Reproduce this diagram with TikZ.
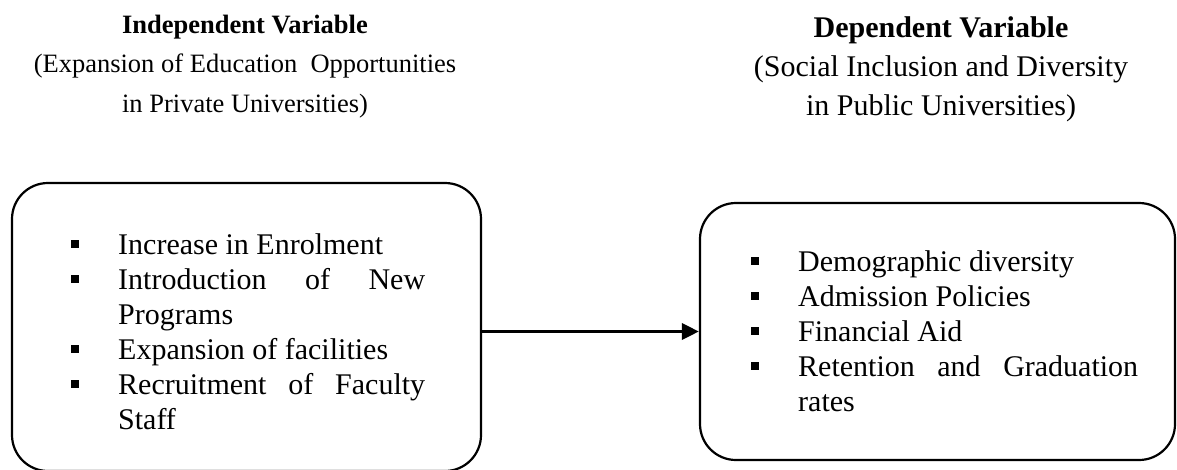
\documentclass[tikz,border=0pt]{standalone}
\usepackage{fontspec}
\setmainfont{Liberation Serif}
\usetikzlibrary{arrows.meta}

% square bullet hung to the left of each entry
\newcommand\sqitem{\par\noindent\llap{\rule[7pt]{8pt}{8pt}\hspace{39pt}}}
% list text: wide word spaces for justified lines, no hyphens
\newcommand\listfont{\fontsize{30}{35}\selectfont
  \spaceskip=7.5pt plus 40pt minus 2pt\relax\hyphenpenalty=10000\relax}

\begin{document}
\begin{tikzpicture}[
  x=1pt,y=-1pt,
  varbox/.style={draw,line width=2.2pt,rounded corners=36pt,inner sep=0pt},
  heading/.style={anchor=north,inner sep=0pt,align=center},
  items/.style={anchor=north west,inner sep=0pt,align=justify,font=\listfont},
  flow/.style={line width=3.5pt,-{Triangle[length=17pt,width=16pt]}}
]
  \useasboundingbox (0,0) rectangle (1177,469);

  % titles above the two boxes
  \node[heading,font=\fontsize{26.5}{39.5}\selectfont] (indep) at (245,5.4)
    {\strut\textbf{Independent Variable}\\(Expansion of Education\ \ Opportunities\\in Private Universities)};
  \node[heading,font=\fontsize{30}{39}\selectfont] (dep) at (941,9.7)
    {\strut\textbf{Dependent Variable}\\(Social Inclusion and Diversity\\in Public Universities)};

  % the two boxes
  \node[varbox,minimum width=469pt,minimum height=288pt] (lbox) at (246.5,327) {};
  \node[varbox,minimum width=475pt,minimum height=257pt] (rbox) at (937.5,331.5) {};

  % their contents
  \node[items,text width=307pt] (ivlist) at (118,219.5) {%
    \sqitem\strut Increase in Enrolment
    \sqitem Introduction of New Programs
    \sqitem Expansion of facilities
    \sqitem Recruitment of Faculty Staff};
  \node[items,text width=340pt] (dvlist) at (798,236.5) {%
    \sqitem\strut Demographic diversity
    \sqitem Admission Policies
    \sqitem Financial Aid
    \sqitem Retention and Graduation rates};

  \draw[flow] (lbox.east |- rbox.west) -- (rbox.west);
\end{tikzpicture}
\end{document}
